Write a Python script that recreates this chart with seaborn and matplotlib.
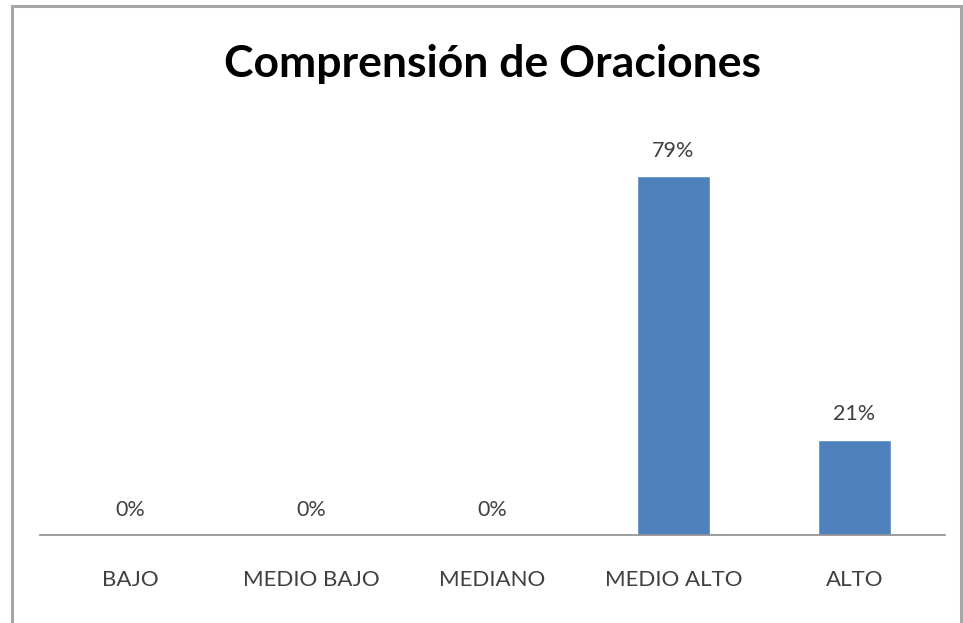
import matplotlib
matplotlib.use("Agg")
import matplotlib.pyplot as plt
import seaborn as sns
import pandas as pd
from matplotlib.patches import Rectangle

categories = ["BAJO", "MEDIO BAJO", "MEDIANO", "MEDIO ALTO", "ALTO"]
percent = [0, 0, 0, 79, 21]
title = "Comprensión de Oraciones"

df = pd.DataFrame({"nivel": categories, "pct": percent})

sns.set_style("white")
plt.rcParams["font.family"] = ["Lato", "DejaVu Sans"]

W, H = 963, 623
fig = plt.figure(figsize=(W / 100, H / 100), dpi=100)
fig.patch.set_facecolor("white")

# outer chart frame (bottom runs off the picture)
fig.patches.append(Rectangle((12 / W, -0.05), (961 - 12) / W, (H - 6) / H + 0.05,
                             transform=fig.transFigure, fill=False,
                             edgecolor="#a6a6a6", linewidth=2.2))

ax = fig.add_axes([40 / W, (H - 535) / H, (945 - 40) / W, 409 / H])
sns.barplot(data=df, x="nivel", y="pct", color="#4f81bd", width=0.40,
            saturation=1, ax=ax)
ax.set_ylim(0, 90)
ax.set_xlim(-0.5, 4.5)

for i, v in enumerate(percent):
    ax.annotate(f"{v}%", (i, v), xytext=(0, 11), textcoords="offset points",
                ha="center", va="bottom", fontsize=15.5, color="#404040")

ax.set_xlabel("")
ax.set_ylabel("")
ax.set_yticks([])
ax.tick_params(axis="x", length=0, pad=25, labelsize=16, labelcolor="#404040")
for s in ["top", "right", "left"]:
    ax.spines[s].set_visible(False)
ax.spines["bottom"].set_color("#8c8c8c")
ax.spines["bottom"].set_linewidth(1.2)

fig.text(492 / W, 1 - 64 / H, title, ha="center", va="center",
         fontsize=32, fontweight="bold", color="black")

fig.savefig("out.png", dpi=100)
